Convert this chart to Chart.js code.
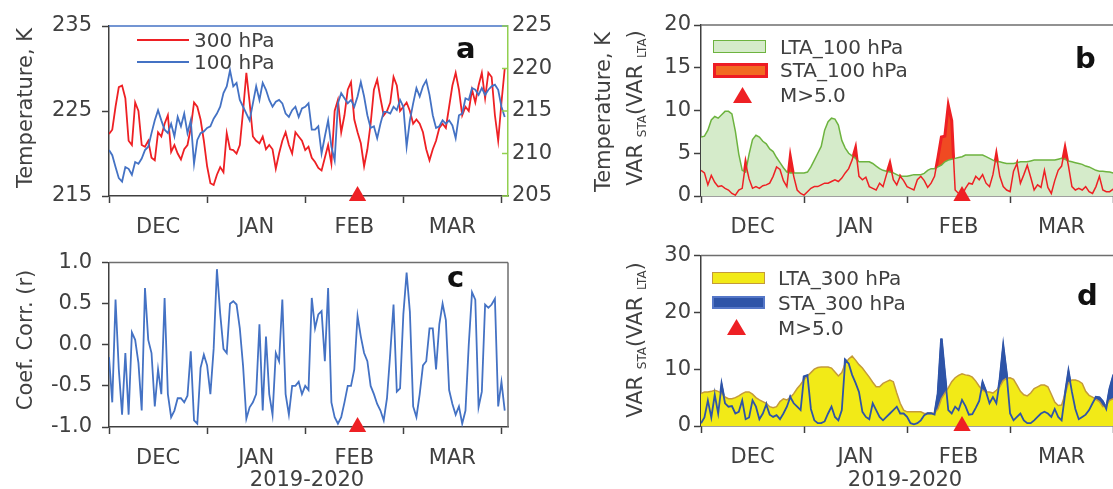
<!DOCTYPE html>
<html>
<head>
<meta charset="utf-8">
<script src="https://cdn.jsdelivr.net/npm/chart.js@4.4.1/dist/chart.umd.min.js"></script>
<style>
html,body{margin:0;padding:0;background:#fff;overflow:hidden;width:1113px;height:489px;}
body{position:relative;font-family:"DejaVu Sans",Verdana,sans-serif;color:#404040;}
canvas{position:absolute;}
.t{position:absolute;white-space:nowrap;line-height:1;}
.rot{transform:translate(-50%,-50%) rotate(-90deg);font-size:21px;}
.lg{font-size:20px;}
.lab{font-weight:bold;font-size:29px;color:#111;}
.tri{position:absolute;width:19px;height:16px;background:#ee2024;clip-path:polygon(50% 0,100% 100%,0 100%);}
sub{font-size:12px;vertical-align:-4px;}
</style>
</head>
<body>
<canvas id="ca" width="560" height="240" style="left:0;top:0"></canvas>
<canvas id="cb" width="570" height="240" style="left:560px;top:0"></canvas>
<canvas id="cc" width="560" height="249" style="left:0;top:240px"></canvas>
<canvas id="cd" width="570" height="249" style="left:560px;top:240px"></canvas>

<!-- axis titles -->
<div class="t rot" style="left:25px;top:108px">Temperature, K</div>
<div class="t rot" style="left:603px;top:112px">Temperature, K</div>
<div class="t rot" style="left:636px;top:108px">VAR <sub>STA</sub>(VAR <sub>LTA</sub>)</div>
<div class="t rot" style="left:25px;top:340px">Coef. Corr. (r)</div>
<div class="t rot" style="left:636px;top:340px">VAR <sub>STA</sub>(VAR <sub>LTA</sub>)</div>
<div class="t" style="left:307px;top:469px;transform:translateX(-50%);font-size:21px">2019-2020</div>
<div class="t" style="left:905px;top:469px;transform:translateX(-50%);font-size:21px">2019-2020</div>

<!-- panel letters -->
<div class="t lab" style="left:456px;top:34px">a</div>
<div class="t lab" style="left:1075px;top:44px">b</div>
<div class="t lab" style="left:447px;top:263px">c</div>
<div class="t lab" style="left:1077px;top:281px">d</div>

<!-- legend a -->
<div style="position:absolute;left:137px;top:39px;width:52px;height:2px;background:#ee2024"></div>
<div class="t lg" style="left:194px;top:30px">300 hPa</div>
<div style="position:absolute;left:137px;top:61px;width:52px;height:2px;background:#4472c4"></div>
<div class="t lg" style="left:194px;top:52px">100 hPa</div>

<!-- legend b -->
<div style="position:absolute;left:713px;top:40px;width:51px;height:11px;background:#d5ebca;border:1.5px solid #6db33f"></div>
<div class="t lg" style="left:780px;top:37px">LTA_100 hPa</div>
<div style="position:absolute;left:713px;top:63px;width:49px;height:9px;background:#f26a21;border:3px solid #ee1c24"></div>
<div class="t lg" style="left:780px;top:60px">STA_100 hPa</div>
<div class="tri" style="left:733px;top:87px"></div>
<div class="t lg" style="left:780px;top:85px">M&gt;5.0</div>

<!-- legend d -->
<div style="position:absolute;left:712px;top:272px;width:51px;height:10px;background:#f2ea17;border:1.5px solid #c49a3a"></div>
<div class="t lg" style="left:778px;top:268px">LTA_300 hPa</div>
<div style="position:absolute;left:712px;top:296px;width:49px;height:9px;background:#2e54a8;border:2px solid #5577c8"></div>
<div class="t lg" style="left:778px;top:293px">STA_300 hPa</div>
<div class="tri" style="left:727px;top:319px"></div>
<div class="t lg" style="left:778px;top:318px">M&gt;5.0</div>

<script>
// ---------------- DATA ----------------
const dayIndex = Array.from({length: 122}, (_, i) => i); // days from 1 Dec 2019
const monthNames = ['DEC', 'JAN', 'FEB', 'MAR'];
const monthStartDays = [0, 30, 60, 90, 120];
const monthMidDays = [15, 45, 75, 105];
const quakeDay = [76];

// panel a: temperature (K)
const t300 = [222.3,222.8,225.5,227.8,228.0,226.5,221.5,221.0,226.0,225.0,
 221.0,220.8,221.5,219.5,219.2,222.5,222.0,223.5,224.5,220.2,
 221.0,220.0,219.3,220.5,221.0,223.0,226.0,225.5,224.0,221.5,
 218.5,216.5,216.3,217.5,218.4,217.8,222.4,220.5,220.4,220.0,
 221.0,225.0,229.5,226.0,222.0,221.5,221.2,222.0,220.5,221.0,
 220.5,218.2,220.0,221.5,222.5,221.0,220.0,222.5,222.0,221.5,
 220.4,220.8,219.5,219.0,218.3,218.0,219.5,221.0,218.8,225.0,
 226.3,222.5,224.5,227.5,228.4,224.0,222.5,221.2,218.5,220.5,
 223.5,227.5,228.7,226.5,224.5,225.0,226.0,229.0,228.0,225.0,
 225.5,226.0,225.0,223.5,224.0,223.5,222.5,220.5,219.2,220.5,
 221.5,223.0,223.5,223.0,225.5,228.0,229.5,227.5,224.5,225.5,
 225.0,227.5,226.0,228.0,229.5,226.5,229.5,229.0,224.5,221.5,
 226.0,230.0];
const t100 = [210.4,209.8,208.4,207.1,206.7,208.4,208.2,207.5,209.0,208.8,
 209.4,210.4,210.8,212.4,213.9,215.1,213.9,212.8,212.4,213.5,
 212.0,214.3,213.2,214.7,212.4,213.9,208.8,211.6,212.4,212.6,
 213.0,213.2,214.1,214.7,215.5,217.1,217.9,219.8,217.9,218.3,
 216.3,215.5,214.7,213.9,215.9,217.9,216.3,218.3,217.5,216.3,
 215.5,216.1,216.3,215.9,214.7,214.3,215.1,215.5,214.3,215.3,
 215.5,215.9,212.8,212.8,213.2,210.0,212.0,213.9,210.8,209.2,
 215.9,217.1,216.5,215.9,216.3,215.5,216.7,218.4,216.7,214.5,
 213.0,213.2,211.8,213.5,214.9,214.9,214.7,215.5,215.1,216.3,
 215.5,210.8,213.9,215.9,217.7,216.7,217.9,218.6,216.9,214.5,
 213.0,213.2,213.9,213.5,213.9,213.3,211.8,214.5,214.7,216.5,
 216.3,217.7,217.5,216.9,217.7,216.9,217.5,217.9,218.1,217.5,
 215.5,214.3];

// panel b: 100 hPa variance
const lta100 = [6.9,7.0,7.7,8.9,9.3,9.1,9.5,9.9,9.9,9.6,
 7.6,4.9,3.0,2.8,4.9,6.6,7.1,6.9,6.4,6.1,
 5.5,5.2,4.5,3.9,3.3,2.8,2.7,2.7,2.7,2.7,
 2.7,2.8,3.4,4.2,5.0,5.8,7.7,8.7,9.1,9.0,
 8.3,6.5,5.6,5.0,4.7,4.4,4.0,4.0,4.0,4.0,
 3.8,3.5,3.2,3.0,2.9,2.8,2.7,2.5,2.3,2.3,
 2.3,2.4,2.5,2.5,2.5,2.65,3.0,3.2,3.2,3.4,
 3.6,4.0,4.2,4.3,4.4,4.5,4.6,4.8,4.8,4.8,
 4.8,4.8,4.8,4.6,4.4,4.2,4.0,4.0,3.9,3.8,
 3.8,3.8,3.9,4.0,4.0,4.0,4.1,4.2,4.2,4.2,
 4.2,4.2,4.2,4.2,4.3,4.4,4.3,4.1,4.0,3.9,
 3.8,3.7,3.5,3.4,3.2,3.0,2.9,2.9,2.85,2.8,
 2.7,2.7];
const sta100 = [3.0,2.7,1.3,2.4,1.6,1.1,1.2,0.9,0.7,0.3,
 0.1,0.7,0.9,3.8,2.0,0.9,1.1,0.9,1.2,1.3,
 1.5,2.3,3.4,3.1,1.8,1.1,4.6,2.3,0.7,0.3,
 0.1,0.5,0.9,1.1,1.1,1.3,1.5,1.5,1.7,1.9,
 1.7,2.1,2.7,3.2,4.2,5.6,2.3,1.9,2.2,1.1,
 0.9,0.7,1.5,1.1,2.5,3.8,1.9,1.3,2.3,1.8,
 1.1,0.9,0.7,1.9,2.3,1.8,1.0,1.5,2.3,4.5,
 6.9,7.0,10.6,8.8,0.7,0.3,0.1,0.9,1.5,1.4,
 2.3,1.9,2.5,1.5,1.1,2.5,4.8,2.3,1.1,0.7,
 0.5,2.9,3.8,1.5,2.5,3.6,2.2,0.7,1.3,1.0,
 3.0,1.0,0.3,1.8,3.0,3.5,5.6,3.5,1.1,0.7,
 0.9,0.7,1.1,0.5,0.3,1.1,2.3,0.7,0.5,0.5,
 0.8,1.0];

// panel c: correlation coefficient
const corr = [-0.15,-0.7,0.55,-0.3,-0.85,-0.1,-0.85,0.15,0.06,-0.22,
 -0.8,0.69,0.06,-0.1,-0.75,-0.3,-0.6,0.57,-0.6,-0.88,
 -0.8,-0.65,-0.65,-0.7,-0.62,-0.08,-0.92,-0.96,-0.28,-0.12,
 -0.25,-0.6,-0.05,0.92,0.38,-0.05,-0.1,0.5,0.53,0.49,
 0.2,-0.26,-0.9,-0.76,-0.7,-0.6,0.25,-0.8,0.1,-0.6,
 -0.85,-0.1,-0.2,0.55,-0.6,-0.85,-0.5,-0.5,-0.45,-0.6,
 -0.5,-0.55,0.57,0.2,0.37,0.41,-0.2,0.69,-0.7,-0.88,
 -0.96,-0.88,-0.7,-0.5,-0.5,-0.3,0.35,0.1,-0.1,-0.2,
 -0.5,-0.6,-0.72,-0.8,-0.92,-0.65,-0.1,0.49,-0.57,-0.53,
 0.37,0.88,0.4,-0.75,-0.88,-0.6,-0.25,-0.2,0.2,0.2,
 -0.3,0.25,0.5,0.3,-0.55,-0.72,-0.85,-0.75,-0.96,-0.8,
 0.0,0.64,0.55,-0.76,-0.57,0.49,0.45,0.49,0.56,-0.75,
 -0.45,-0.8];

// panel d: 300 hPa variance
const lta300 = [5.7,6.0,6.0,6.1,6.3,6.1,5.8,5.1,4.8,4.8,
 5.0,5.3,5.7,6.0,6.0,5.6,5.0,4.6,4.3,4.0,
 3.4,3.2,3.4,4.3,4.8,4.6,5.0,5.7,6.6,7.3,
 8.2,8.8,9.4,10.0,10.3,10.4,10.4,10.4,10.2,9.5,
 8.8,9.4,11.0,11.8,12.3,11.6,10.8,10.2,9.4,8.6,
 7.7,6.9,6.9,7.5,7.8,8.1,7.8,5.8,4.0,2.8,
 2.5,2.5,2.5,2.5,2.5,2.2,2.2,2.2,2.3,3.0,
 4.8,5.8,6.7,7.8,8.5,8.9,9.2,9.0,8.9,8.6,
 7.9,7.0,6.3,6.0,6.0,5.8,6.3,6.9,8.0,8.4,
 8.5,8.2,7.2,6.1,5.5,5.3,5.8,6.6,6.9,7.2,
 7.2,6.9,5.6,4.2,3.6,3.7,5.6,7.6,8.1,8.1,
 7.9,7.5,6.1,5.4,5.1,4.7,4.3,3.4,3.6,4.5,
 4.8,5.0];
const sta300 = [0.5,1.5,4.5,1.5,5.5,2.2,7.2,4.0,3.4,3.5,
 2.2,2.5,4.5,1.2,1.5,4.5,3.4,1.2,2.2,3.8,
 2.0,1.6,1.9,1.2,2.2,3.4,5.1,4.0,3.4,2.8,
 8.7,8.9,3.0,1.0,0.5,0.5,0.8,2.2,3.4,1.6,
 1.0,2.8,11.6,11.0,9.0,7.6,6.0,2.5,1.6,1.2,
 4.0,2.8,1.6,1.0,1.6,2.2,2.8,3.4,2.2,2.2,
 1.6,0.5,0.3,0.5,1.0,1.9,2.2,2.2,2.0,5.7,
 15.4,9.0,2.8,2.2,3.4,2.8,4.6,3.5,2.0,2.1,
 3.2,4.4,7.6,6.0,4.0,5.1,4.0,8.0,13.9,9.0,
 2.2,1.0,1.6,2.2,1.0,0.5,0.5,1.0,1.6,2.2,
 2.5,2.2,1.6,3.0,1.6,1.0,5.5,9.5,6.0,3.0,
 1.2,1.6,2.0,2.8,4.0,5.1,5.0,4.3,3.0,6.5,
 8.7,8.0];

// ---------------- STYLE ----------------
const FONT = '"DejaVu Sans", Verdana, sans-serif';
const TXT = '#404040', AX = '#404040', FRAME = '#6e6e6e';
const RED = '#ee2024', BLUE = '#4472c4';

const pts = arr => arr.map((v, i) => ({x: dayIndex[i], y: v}));

const framePlugin = {
  id: 'frame',
  afterDatasetsDraw(chart, args, o) {
    const {ctx, chartArea: a} = chart;
    ctx.save();
    ctx.lineWidth = 1.5;
    if (o.top) { ctx.strokeStyle = o.top; ctx.beginPath(); ctx.moveTo(a.left, a.top); ctx.lineTo(a.right, a.top); ctx.stroke(); }
    if (o.right) { ctx.strokeStyle = o.right; ctx.beginPath(); ctx.moveTo(a.right, a.top); ctx.lineTo(a.right, a.bottom); ctx.stroke(); }
    ctx.restore();
  }
};
const innerTickPlugin = {
  id: 'innerTicks',
  afterDraw(chart, args, o) {
    if (!o.scale) return;
    const s = chart.scales[o.scale], a = chart.chartArea, ctx = chart.ctx;
    ctx.save(); ctx.strokeStyle = o.color; ctx.lineWidth = 1.5;
    s.ticks.forEach(t => { const y = s.getPixelForValue(t.value); ctx.beginPath(); ctx.moveTo(a.right - 6, y); ctx.lineTo(a.right, y); ctx.stroke(); });
    ctx.restore();
  }
};
Chart.register(framePlugin, innerTickPlugin);

function xScale(h) {
  return {
    type: 'linear', min: 0, max: 122,
    afterBuildTicks: ax => { ax.ticks = monthStartDays.concat(monthMidDays).sort((p, q) => p - q).map(v => ({value: v})); },
    ticks: {autoSkip: false, maxRotation: 0, minRotation: 0, padding: 12, color: TXT, font: {family: FONT, size: 21},
      callback: v => { const k = monthMidDays.indexOf(v); return k >= 0 ? monthNames[k] : ''; }},
    grid: {drawOnChartArea: false, drawTicks: true, tickLength: 7, tickWidth: 1.5,
      tickColor: c => (c.tick && monthStartDays.includes(c.tick.value)) ? AX : 'rgba(0,0,0,0)'},
    border: {color: AX, width: 1.5},
    afterFit: s => { s.height = h; }
  };
}
function yScale(min, max, step, w, pad, fmt) {
  return {
    type: 'linear', position: 'left', min, max,
    ticks: {stepSize: step, padding: pad, color: TXT, font: {family: FONT, size: 21}, callback: fmt},
    grid: {drawOnChartArea: false, tickLength: 7, tickWidth: 1.5, tickColor: AX},
    border: {color: AX, width: 1.5},
    afterFit: s => { s.width = w; }
  };
}
function opts(padding, scales, plugins) {
  return {
    responsive: false, animation: false, devicePixelRatio: 1, events: [],
    layout: {padding},
    plugins: Object.assign({legend: {display: false}, tooltip: {enabled: false}}, plugins),
    scales
  };
}
function tri(yv) {
  return {type: 'scatter', data: quakeDay.map(d => ({x: d, y: yv})), pointStyle: 'triangle', pointRadius: 10,
    pointBackgroundColor: RED, pointBorderColor: RED, borderWidth: 0, clip: false, showLine: false, order: 0};
}
const line = (data, color, w, extra) => Object.assign({type: 'line', data: pts(data), borderColor: color, borderWidth: w,
  pointRadius: 0, tension: 0, fill: false}, extra || {});

// ---------------- PANEL A ----------------
new Chart(document.getElementById('ca'), {
  type: 'line',
  data: {datasets: [
    tri(215),
    line(t300, RED, 1.8, {yAxisID: 'y', order: 2}),
    line(t100, BLUE, 1.8, {yAxisID: 'y2', order: 1})
  ]},
  options: opts({top: 26, left: 0, right: 0, bottom: 0}, {
    x: xScale(44),
    y: yScale(215, 235, 10, 109, 10, v => v),
    y2: {type: 'linear', position: 'right', min: 205, max: 225,
      ticks: {stepSize: 5, padding: 4, color: TXT, font: {family: FONT, size: 21}},
      grid: {drawOnChartArea: false, drawTicks: false},
      border: {color: '#92d050', width: 1.5},
      afterFit: s => { s.width = 52; }}
  }, {frame: {top: BLUE}, innerTicks: {scale: 'y2', color: '#92d050'}})
});

// ---------------- PANEL B ----------------
new Chart(document.getElementById('cb'), {
  type: 'line',
  data: {datasets: [
    tri(0),
    line(sta100, RED, 1.5, {order: 2}),
    line(lta100, '#6db33f', 1.5, {fill: 'origin', backgroundColor: '#d5ebca', order: 3}),
    line(sta100, RED, 3, {fill: 'origin', backgroundColor: '#f04a22', order: 4})
  ]},
  options: opts({top: 25, left: 0, right: 10, bottom: 0}, {
    x: xScale(44),
    y: yScale(0, 20, 5, 141, 3, v => v)
  }, {frame: {top: FRAME, right: FRAME}})
});

// ---------------- PANEL C ----------------
new Chart(document.getElementById('cc'), {
  type: 'line',
  data: {datasets: [
    tri(-1),
    line(corr, BLUE, 1.8, {order: 1})
  ]},
  options: opts({top: 17, left: 0, right: 52, bottom: 0}, {
    x: xScale(62),
    y: yScale(-1, 1, 0.5, 109, 10, v => Number(v).toFixed(1))
  }, {frame: {top: FRAME, right: FRAME}})
});

// ---------------- PANEL D ----------------
new Chart(document.getElementById('cd'), {
  type: 'line',
  data: {datasets: [
    tri(0),
    line(sta300, '#2e54a8', 1.8, {order: 2}),
    line(lta300, '#c49a3a', 1.5, {fill: 'origin', backgroundColor: '#f2ea17', order: 3}),
    line(sta300, '#2e54a8', 2.5, {fill: 'origin', backgroundColor: '#2e54a8', order: 4})
  ]},
  options: opts({top: 15, left: 0, right: 10, bottom: 0}, {
    x: xScale(63),
    y: yScale(0, 30, 10, 141, 3, v => v)
  }, {frame: {top: FRAME, right: FRAME}})
});
</script>
</body>
</html>
